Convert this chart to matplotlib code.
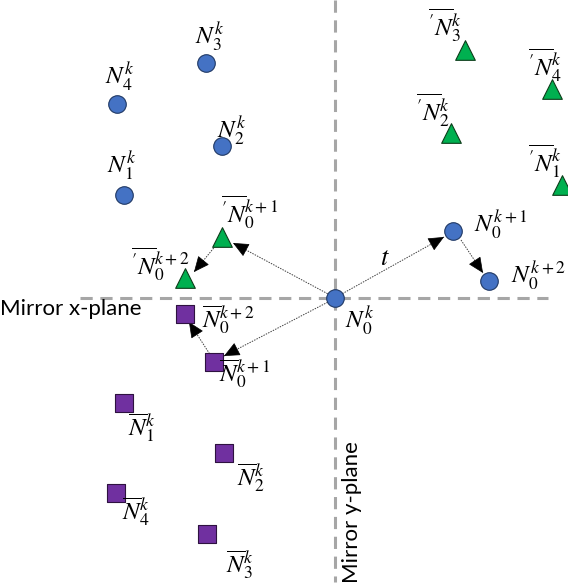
import matplotlib.pyplot as plt
import numpy as np

plt.rcParams['mathtext.fontset'] = 'stix'

# node positions on the canvas (x right, y down)
blue_x = [124, 222, 206, 117, 335, 453, 489]
blue_y = [195, 146, 63, 104, 298, 231, 281]
green_x = [562, 451, 465, 552, 222, 185]
green_y = [185, 133, 50, 89, 237, 278]
purple_x = [124, 224, 207, 116, 214, 185]
purple_y = [403, 453, 534, 493, 362, 314]

blue_labels = [r'$N_1^k$', r'$N_2^k$', r'$N_3^k$', r'$N_4^k$',
               r'$N_0^k$', r'$N_0^{k+1}$', r'$N_0^{k+2}$']
blue_lab_xy = [(122, 166), (232, 131), (210, 37), (120, 77),
               (360, 321), (501, 225), (538, 276)]
green_labels = [r"$\overline{{}^{\prime}N}_1^k$", r"$\overline{{}^{\prime}N}_2^k$",
                r"$\overline{{}^{\prime}N}_3^k$", r"$\overline{{}^{\prime}N}_4^k$",
                r"$\overline{{}^{\prime}N}_0^{k+1}$", r"$\overline{{}^{\prime}N}_0^{k+2}$"]
green_lab_xy = [(545, 161), (433, 110), (445, 25), (545, 65), (250, 212), (160, 264)]
purple_labels = [r'$\overline{N}_1^k$', r'$\overline{N}_2^k$', r'$\overline{N}_3^k$',
                 r'$\overline{N}_4^k$', r'$\overline{N}_0^{k+1}$', r'$\overline{N}_0^{k+2}$']
purple_lab_xy = [(142, 428), (251, 478), (240, 565), (136, 512), (245, 374), (228, 320)]

# motion arrows: (start, tip)
arrows = [((340, 295), (444, 237)),
          ((461, 240), (483, 273)),
          ((330, 295), (233, 243)),
          ((217, 244), (194, 272)),
          ((330, 301), (224, 356)),
          ((211, 356), (189, 322))]

fig = plt.figure(figsize=(5.68, 5.85), dpi=100)
ax = fig.add_axes([0, 0, 1, 1])
ax.set_xlim(0, 568)
ax.set_ylim(585, 0)
ax.axis('off')

# mirror planes
ax.plot([80, 548], [298, 298], color='#a6a6a6', lw=2.2, ls=(0, (4, 2.5)), zorder=1)
ax.plot([335, 335], [0, 582], color='#a6a6a6', lw=2.2, ls=(0, (4, 2.5)), zorder=1)
ax.text(0, 309, 'Mirror x-plane', fontsize=16, family='Lato', va='center', ha='left')
ax.text(352, 583, 'Mirror y-plane', fontsize=16, family='Lato', rotation=90,
        va='bottom', ha='center')

for (x0, y0), (x1, y1) in arrows:
    ax.plot([x0, x1], [y0, y1], color='#404040', lw=0.7, ls=(0, (1.5, 1.2)), zorder=2)
    d = np.hypot(x1 - x0, y1 - y0)
    bx, by = x1 - (x1 - x0) / d * 2, y1 - (y1 - y0) / d * 2
    ax.annotate('', xy=(x1, y1), xytext=(bx, by),
                arrowprops=dict(arrowstyle='-|>,head_length=1.0,head_width=0.45',
                                color='black', lw=0.5, shrinkA=0, shrinkB=0), zorder=3)

ax.text(385, 258, r'$t$', fontsize=19, ha='center', va='center')

ax.scatter(blue_x, blue_y, s=160, marker='o', color='#4472c4', edgecolors='#1f3864',
           linewidths=0.8, zorder=4)
ax.scatter(green_x, green_y, s=200, marker='^', color='#00b050', edgecolors='#0d3d1a',
           linewidths=0.8, zorder=4)
ax.scatter(purple_x, purple_y, s=150, marker='s', color='#7030a0', edgecolors='#2e1240',
           linewidths=0.8, zorder=4)

for labels, xy in [(blue_labels, blue_lab_xy), (green_labels, green_lab_xy),
                   (purple_labels, purple_lab_xy)]:
    for lab, (x, y) in zip(labels, xy):
        ax.text(x, y, lab, fontsize=18, ha='center', va='center', zorder=5)

fig.savefig('out.png', dpi=100)
